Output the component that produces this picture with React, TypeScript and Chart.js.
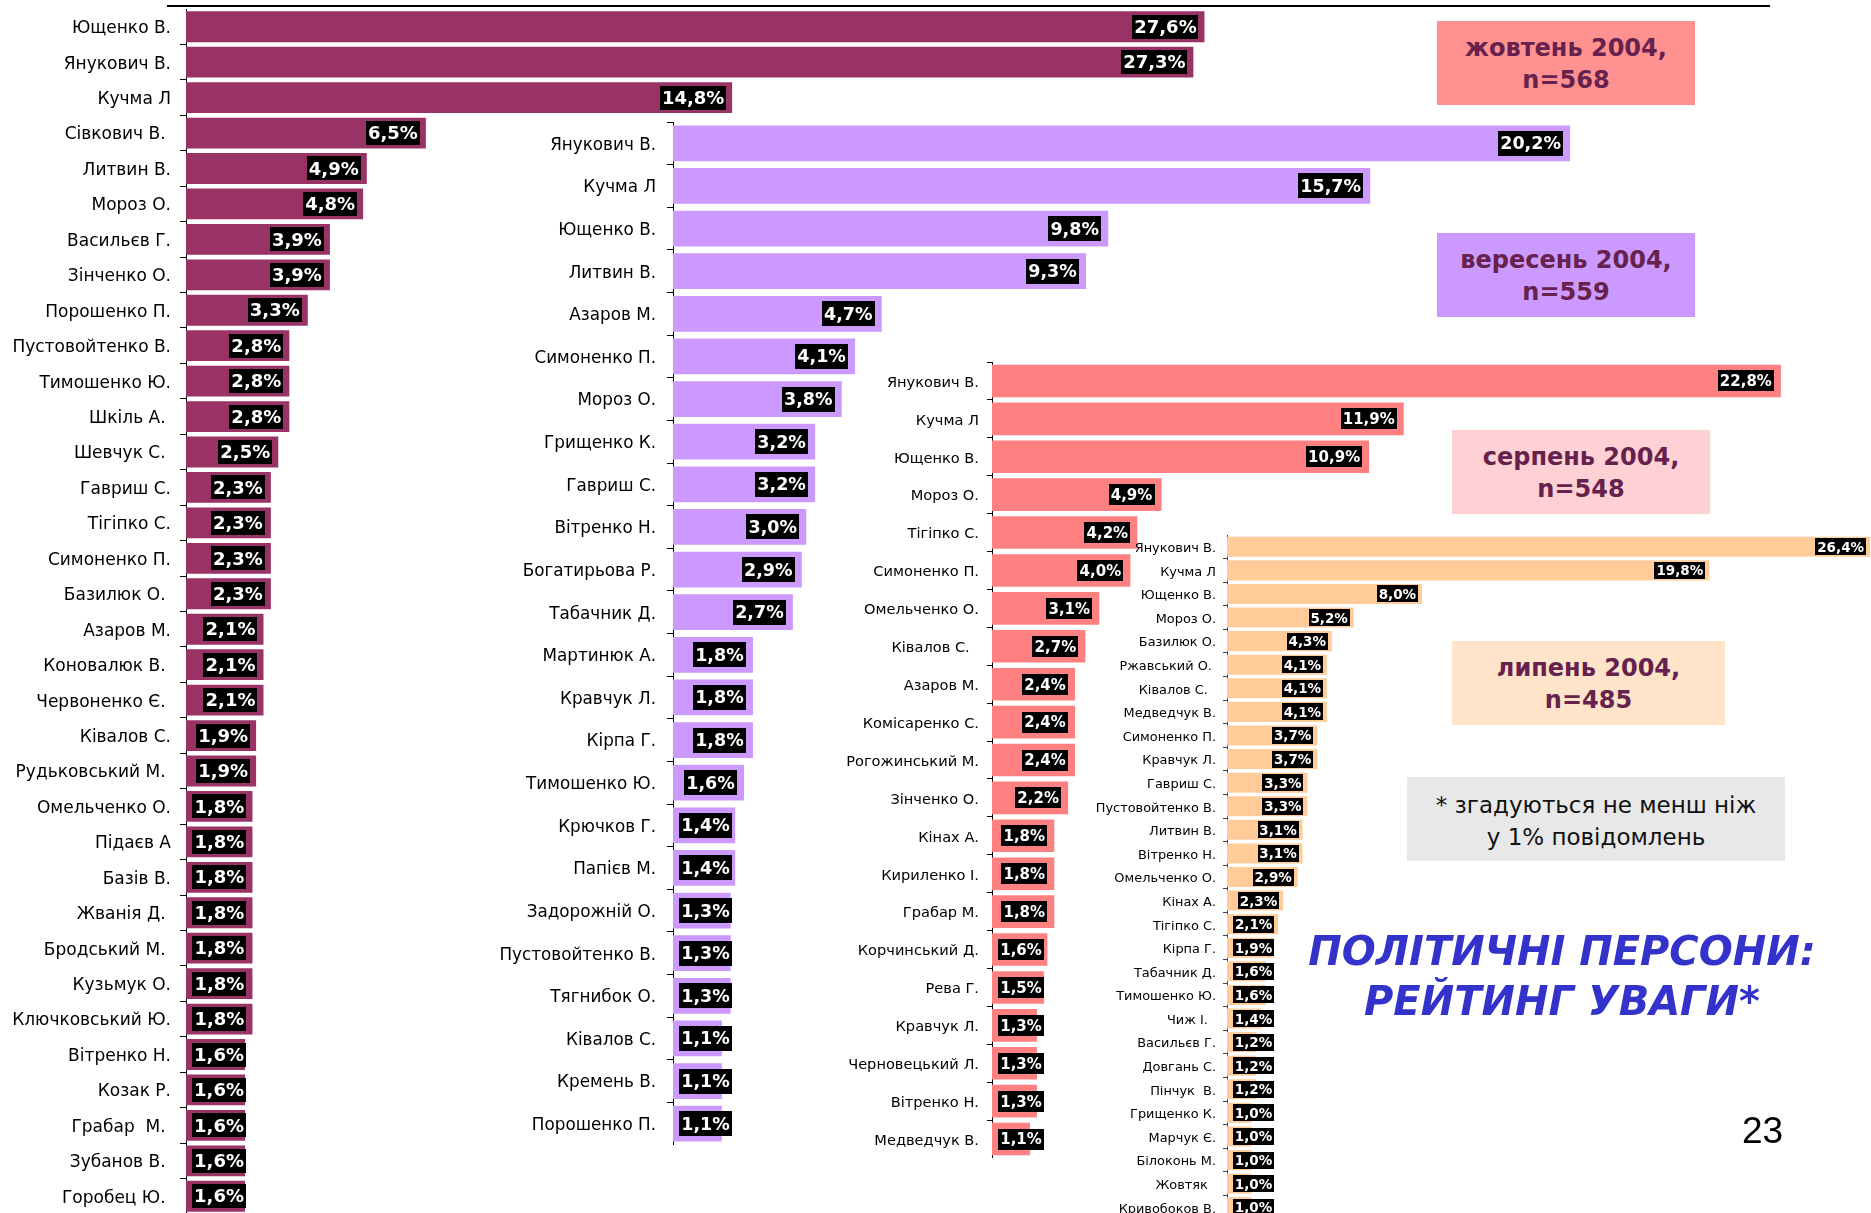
import React, { useEffect, useRef } from 'react';
import { Chart, registerables } from 'chart.js';

Chart.register(...registerables);

// ---------- DATA ----------
const octLabels = [
  'Ющенко В.', 'Янукович В.', 'Кучма Л', 'Сівкович В. ', 'Литвин В.', 'Мороз О.', 'Васильєв Г.',
  'Зінченко О.', 'Порошенко П.', 'Пустовойтенко В.', 'Тимошенко Ю.', 'Шкіль А. ', 'Шевчук С. ',
  'Гавриш С.', 'Тігіпко С.', 'Симоненко П.', 'Базилюк О. ', 'Азаров М.', 'Коновалюк В. ',
  'Червоненко Є. ', 'Ківалов С.', 'Рудьковський М. ', 'Омельченко О.', 'Підаєв А', 'Базів В.',
  'Жванія Д. ', 'Бродський М. ', 'Кузьмук О.', 'Ключковський Ю.', 'Вітренко Н.', 'Козак Р.',
  'Грабар  М. ', 'Зубанов В. ', 'Горобец Ю. ',
];
const octValues = [
  27.6, 27.3, 14.8, 6.5, 4.9, 4.8, 3.9, 3.9, 3.3, 2.8, 2.8, 2.8, 2.5, 2.3, 2.3, 2.3, 2.3,
  2.1, 2.1, 2.1, 1.9, 1.9, 1.8, 1.8, 1.8, 1.8, 1.8, 1.8, 1.8, 1.6, 1.6, 1.6, 1.6, 1.6,
];

const sepLabels = [
  'Янукович В.', 'Кучма Л', 'Ющенко В.', 'Литвин В.', 'Азаров М.', 'Симоненко П.', 'Мороз О.',
  'Грищенко К.', 'Гавриш С.', 'Вітренко Н.', 'Богатирьова Р.', 'Табачник Д.', 'Мартинюк А.',
  'Кравчук Л.', 'Кірпа Г.', 'Тимошенко Ю.', 'Крючков Г.', 'Папієв М.', 'Задорожній О.',
  'Пустовойтенко В.', 'Тягнибок О.', 'Ківалов С.', 'Кремень В.', 'Порошенко П.',
];
const sepValues = [
  20.2, 15.7, 9.8, 9.3, 4.7, 4.1, 3.8, 3.2, 3.2, 3.0, 2.9, 2.7, 1.8, 1.8, 1.8, 1.6, 1.4, 1.4,
  1.3, 1.3, 1.3, 1.1, 1.1, 1.1,
];

const augLabels = [
  'Янукович В.', 'Кучма Л', 'Ющенко В.', 'Мороз О.', 'Тігіпко С.', 'Симоненко П.', 'Омельченко О.',
  'Ківалов С.  ', 'Азаров М.', 'Комісаренко С.', 'Рогожинський М.', 'Зінченко О.', 'Кінах А.',
  'Кириленко І.', 'Грабар М.', 'Корчинський Д.', 'Рева Г.', 'Кравчук Л.', 'Черновецький Л.',
  'Вітренко Н.', 'Медведчук В.',
];
const augValues = [
  22.8, 11.9, 10.9, 4.9, 4.2, 4.0, 3.1, 2.7, 2.4, 2.4, 2.4, 2.2, 1.8, 1.8, 1.8, 1.6, 1.5,
  1.3, 1.3, 1.3, 1.1,
];

const julLabels = [
  'Янукович В.', 'Кучма Л', 'Ющенко В.', 'Мороз О.', 'Базилюк О.', 'Ржавський О. ', 'Ківалов С.  ',
  'Медведчук В.', 'Симоненко П.', 'Кравчук Л.', 'Гавриш С.', 'Пустовойтенко В.', 'Литвин В.',
  'Вітренко Н.', 'Омельченко О.', 'Кінах А.', 'Тігіпко С.', 'Кірпа Г.', 'Табачник Д.',
  'Тимошенко Ю.', 'Чиж І.  ', 'Васильєв Г.', 'Довгань С.', 'Пінчук  В.', 'Грищенко К.',
  'Марчук Є.', 'Білоконь М.', 'Жовтяк  ', 'Кривобоков В.',
];
const julValues = [
  26.4, 19.8, 8.0, 5.2, 4.3, 4.1, 4.1, 4.1, 3.7, 3.7, 3.3, 3.3, 3.1, 3.1, 2.9, 2.3, 2.1,
  1.9, 1.6, 1.6, 1.4, 1.2, 1.2, 1.2, 1.0, 1.0, 1.0, 1.0, 1.0,
];

// ---------- LAYOUT / STYLE ----------
type PanelSpec = {
  labels: string[];
  values: number[];
  color: string;
  axisX: number;
  top: number;
  height: number;
  yW: number;
  xMax: number;
  pxPer: number;
  tickSize: number;
  tickPad: number;
  tickLen: number;
  valSize: number;
  boxH: number;
  barPct: number;
  inset: number;
  gap: number;
  axisColor: string;
};

const panels: PanelSpec[] = [
  {
    labels: octLabels, values: octValues, color: '#993366',
    axisX: 186, top: 9, height: 1205, yW: 186, xMax: 30, pxPer: 36.9,
    tickSize: 17, tickPad: 9, tickLen: 6, valSize: 18, boxH: 24, barPct: 0.87, inset: 6, gap: 6,
    axisColor: '#000',
  },
  {
    labels: sepLabels, values: sepValues, color: '#CC99FF',
    axisX: 673, top: 122, height: 1023, yW: 233, xMax: 22, pxPer: 44.4,
    tickSize: 16.8, tickPad: 11, tickLen: 6, valSize: 17.5, boxH: 25, barPct: 0.84, inset: 7, gap: 6,
    axisColor: '#000',
  },
  {
    labels: augLabels, values: augValues, color: '#FF8080',
    axisX: 992, top: 362, height: 796, yW: 202, xMax: 25, pxPer: 34.6,
    tickSize: 14.6, tickPad: 8, tickLen: 5, valSize: 15, boxH: 21, barPct: 0.86, inset: 7, gap: 6,
    axisColor: '#000',
  },
  {
    labels: julLabels, values: julValues, color: '#FFCC99',
    axisX: 1227, top: 535, height: 684, yW: 180, xMax: 26.6, pxPer: 24.35,
    tickSize: 12.9, tickPad: 7, tickLen: 4, valSize: 13.5, boxH: 17, barPct: 0.85, inset: 4, gap: 6,
    axisColor: '#444',
  },
];

const FONT = '"DejaVu Sans", Verdana, sans-serif';

const valueLabelsPlugin = {
  id: 'valueLabels',
  afterDatasetsDraw(chart: any, _args: any, opts: any) {
    const { ctx } = chart;
    const meta = chart.getDatasetMeta(0);
    const data = chart.data.datasets[0].data as number[];
    ctx.save();
    ctx.font = `bold ${opts.size}px ${FONT}`;
    ctx.textBaseline = 'middle';
    ctx.textAlign = 'center';
    meta.data.forEach((bar: any, i: number) => {
      const v = data[i];
      const text = v.toFixed(1).replace('.', ',') + '%';
      const { x, y, base } = bar.getProps(['x', 'y', 'base'], true);
      const tw = ctx.measureText(text).width;
      const w = Math.round(tw + 4);
      const right = Math.max(x - opts.inset, base + opts.gap + w);
      ctx.fillStyle = '#000';
      ctx.fillRect(Math.round(right - w), Math.round(y - opts.h / 2), w, opts.h);
      ctx.fillStyle = '#fff';
      ctx.fillText(text, right - w / 2, y + 1.5);
    });
    ctx.restore();
  },
};

function BarPanel({ spec }: { spec: PanelSpec }) {
  const ref = useRef<HTMLCanvasElement | null>(null);
  const areaW = Math.round(spec.xMax * spec.pxPer);
  const width = spec.yW + areaW;
  useEffect(() => {
    if (!ref.current) return;
    const chart = new Chart(ref.current, {
      type: 'bar',
      data: {
        labels: spec.labels,
        datasets: [
          {
            data: spec.values,
            backgroundColor: spec.color,
            borderWidth: 0,
            barPercentage: spec.barPct,
            categoryPercentage: 1,
          },
        ],
      },
      options: {
        indexAxis: 'y',
        responsive: false,
        animation: false,
        layout: { padding: 0 },
        events: [],
        plugins: {
          legend: { display: false },
          tooltip: { enabled: false },
          title: { display: false },
          valueLabels: { size: spec.valSize, h: spec.boxH, inset: spec.inset, gap: spec.gap },
        } as any,
        scales: {
          x: { type: 'linear', min: 0, max: spec.xMax, display: false },
          y: {
            type: 'category',
            position: 'left',
            offset: true,
            ticks: {
              autoSkip: false,
              padding: spec.tickPad,
              labelOffset: 2,
              color: '#000',
              font: { family: FONT, size: spec.tickSize },
            },
            grid: {
              display: true,
              offset: true,
              drawOnChartArea: false,
              drawTicks: true,
              tickLength: spec.tickLen,
              color: spec.axisColor,
              lineWidth: 1,
            },
            border: { display: true, color: spec.axisColor, width: 1 },
            afterFit: (scale: any) => {
              scale.width = spec.yW;
              scale.paddingTop = 0;
              scale.paddingBottom = 0;
            },
          },
        },
      },
      plugins: [valueLabelsPlugin],
    });
    return () => chart.destroy();
  }, [spec]);
  return (
    <canvas
      ref={ref}
      width={width}
      height={spec.height}
      style={{
        position: 'absolute',
        left: spec.axisX - spec.yW,
        top: spec.top,
        width,
        height: spec.height,
      }}
    />
  );
}

type BoxSpec = { lines: string[]; left: number; top: number; width: number; height: number; bg: string };

const periodBoxes: BoxSpec[] = [
  { lines: ['жовтень 2004,', 'n=568'], left: 1437, top: 21, width: 258, height: 84, bg: '#FF9191' },
  { lines: ['вересень 2004,', 'n=559'], left: 1437, top: 233, width: 258, height: 84, bg: '#CC99FF' },
  { lines: ['серпень 2004,', 'n=548'], left: 1452, top: 430, width: 258, height: 84, bg: '#FFD1D4' },
  { lines: ['липень 2004,', 'n=485'], left: 1452, top: 641, width: 273, height: 84, bg: '#FFE4CA' },
];

const noteLines = ['* згадуються не менш ніж', 'у 1% повідомлень'];
const titleLines = ['ПОЛІТИЧНІ ПЕРСОНИ:', 'РЕЙТИНГ УВАГИ*'];
const pageNumber = '23';

export default function App() {
  useEffect(() => {
    document.body.style.margin = '0';
    document.body.style.overflow = 'hidden';
  }, []);
  return (
    <div
      style={{
        position: 'absolute',
        left: 0,
        top: 0,
        width: 1871,
        height: 1213,
        overflow: 'hidden',
        background: '#fff',
      }}
    >
      <div style={{ position: 'absolute', left: 167, top: 5, width: 1603, height: 2, background: '#000' }} />
      {panels.map((p, i) => (
        <BarPanel key={i} spec={p} />
      ))}
      {periodBoxes.map((b, i) => (
        <div
          key={i}
          style={{
            position: 'absolute',
            left: b.left,
            top: b.top,
            width: b.width,
            height: b.height,
            background: b.bg,
            display: 'flex',
            flexDirection: 'column',
            justifyContent: 'center',
            alignItems: 'center',
            fontFamily: FONT,
            fontWeight: 'bold',
            fontSize: 24,
            lineHeight: '32px',
            paddingTop: 2,
            boxSizing: 'border-box',
            color: '#66224D',
          }}
        >
          {b.lines.map((l, j) => (
            <div key={j}>{l}</div>
          ))}
        </div>
      ))}
      <div
        style={{
          position: 'absolute',
          left: 1407,
          top: 777,
          width: 378,
          height: 84,
          background: '#E8E8E8',
          display: 'flex',
          flexDirection: 'column',
          justifyContent: 'center',
          alignItems: 'center',
          fontFamily: FONT,
          fontSize: 23,
          lineHeight: '32px',
          paddingTop: 3,
          boxSizing: 'border-box',
          color: '#111',
        }}
      >
        {noteLines.map((l, j) => (
          <div key={j}>{l}</div>
        ))}
      </div>
      <div
        style={{
          position: 'absolute',
          left: 1290,
          top: 926,
          width: 544,
          display: 'flex',
          flexDirection: 'column',
          alignItems: 'center',
          fontFamily: FONT,
          fontWeight: 'bold',
          fontStyle: 'italic',
          fontSize: 40,
          lineHeight: '50px',
          color: '#3333CC',
        }}
      >
        {titleLines.map((l, j) => (
          <div key={j} style={{ whiteSpace: 'nowrap' }}>{l}</div>
        ))}
      </div>
      <div
        style={{
          position: 'absolute',
          left: 1742,
          top: 1109,
          fontFamily: '"Liberation Sans", Arial, sans-serif',
          fontSize: 37,
          lineHeight: '44px',
          color: '#000',
        }}
      >
        {pageNumber}
      </div>
    </div>
  );
}
